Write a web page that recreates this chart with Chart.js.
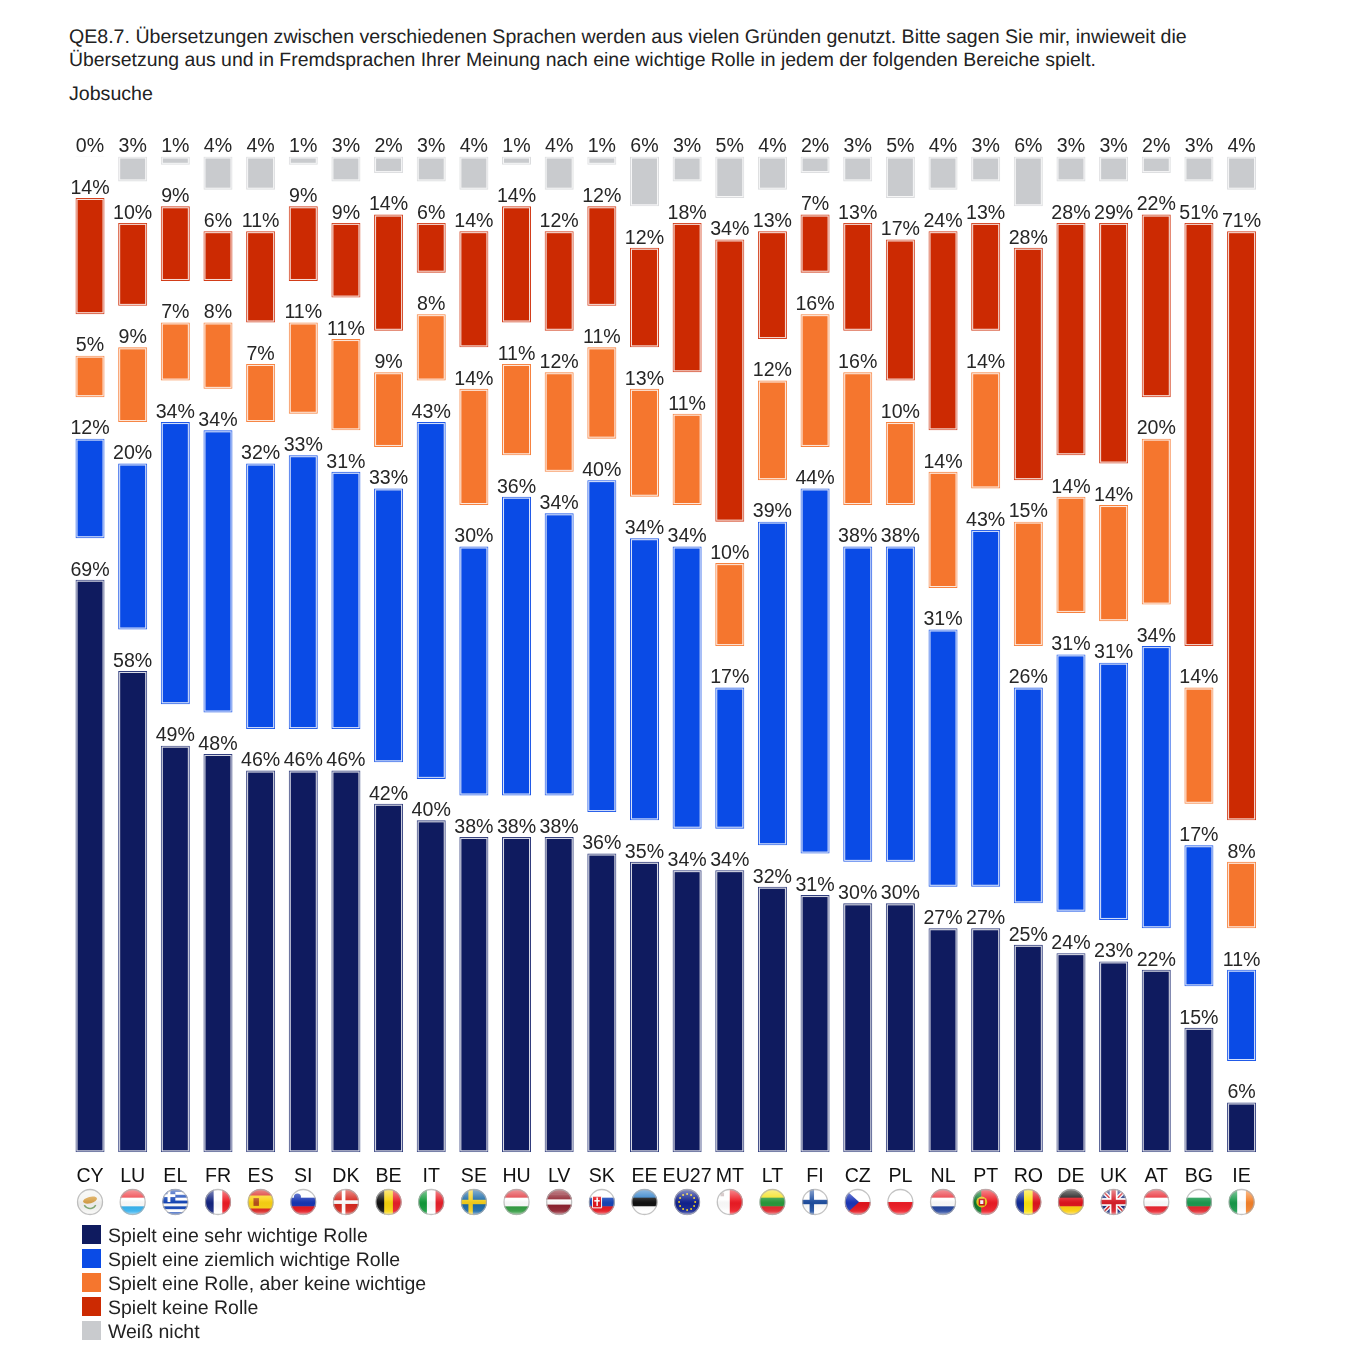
<!DOCTYPE html>
<html lang="de">
<head>
<meta charset="utf-8">
<title>QE8.7 Jobsuche</title>
<script src="https://cdn.jsdelivr.net/npm/chart.js@4"></script>
<style>
    html, body { margin: 0; padding: 0; background: #fff; }
    body { position: relative; width: 1346px; height: 1346px; overflow: hidden; font-family: "Liberation Sans", Arial, sans-serif; color: #222; text-rendering: geometricPrecision; }
    canvas { position: absolute; left: 0; top: 0; }
    #question { position: absolute; left: 69px; top: 26px; width: 1230px; font-size: 19.58px; line-height: 23px; white-space: nowrap; }
    #question span { font-size: 19.41px; }
    #topic { position: absolute; left: 69px; top: 83px; font-size: 19.6px; line-height: 23px; }
    #legend { position: absolute; left: 82px; top: 1222.5px; font-size: 19.48px; }
    .legend-row { display: flex; align-items: center; height: 24px; }
    .legend-box { width: 19px; height: 19px; margin-right: 7px; }
    .legend-text { position: relative; top: 1.5px; }
</style>
</head>
<body>
<div id="question">QE8.7. Übersetzungen zwischen verschiedenen Sprachen werden aus vielen Gründen genutzt. Bitte sagen Sie mir, inwieweit die<br><span>Übersetzung aus und in Fremdsprachen Ihrer Meinung nach eine wichtige Rolle in jedem der folgenden Bereiche spielt.</span></div>
<div id="topic">Jobsuche</div>
<canvas id="chart" width="1346" height="1346"></canvas>
<div id="legend"></div>

<script>
// =====================================================
// DATA
// =====================================================
const countries = ["CY","LU","EL","FR","ES","SI","DK","BE","IT","SE","HU","LV","SK","EE","EU27","MT","LT","FI","CZ","PL","NL","PT","RO","DE","UK","AT","BG","IE"];

const veryImportant   = [69,58,49,48,46,46,46,42,40,38,38,38,36,35,34,34,32,31,30,30,27,27,25,24,23,22,15,6];
const fairlyImportant = [12,20,34,34,32,33,31,33,43,30,36,34,40,34,34,17,39,44,38,38,31,43,26,31,31,34,17,11];
const notImportant    = [5,9,7,8,7,11,11,9,8,14,11,12,11,13,11,10,12,16,16,10,14,14,15,14,14,20,14,8];
const noRole          = [14,10,9,6,11,9,9,14,6,14,14,12,12,12,18,34,13,7,13,17,24,13,28,28,29,22,51,71];
const dontKnow        = [0,3,1,4,4,1,3,2,3,4,1,4,1,6,3,5,4,2,3,5,4,3,6,3,3,2,3,4];

const seriesNames  = ["Spielt eine sehr wichtige Rolle","Spielt eine ziemlich wichtige Rolle","Spielt eine Rolle, aber keine wichtige","Spielt keine Rolle","Weiß nicht"];
const seriesValues = [veryImportant, fairlyImportant, notImportant, noRole, dontKnow];
const seriesColors = ["#0F1B5F","#0A4BE6","#F5762E","#CC2A02","#C9CBCE"];
const seriesBorders = ["#2F3C7C","#1E58E8","#F6823F","#D23C18","#DCDDDF"];

const SEGMENT_GAP = 5; // empty room between two segments, in percentage points

// =====================================================
// FLAGS (plain stripes first, details drawn on top)
// =====================================================
const flagStripes = {
    CY: ["h", ["#f4f4f2"]],
    LU: ["h", ["#ee3b42","#ffffff","#35b1ee"]],
    EL: ["h", ["#1446b8","#ffffff","#1446b8","#ffffff","#1446b8","#ffffff","#1446b8","#ffffff","#1446b8"]],
    FR: ["v", ["#12237f","#ffffff","#ee1c25"]],
    ES: ["h", ["#d8201c","#fbd214","#fbd214","#d8201c"]],
    SI: ["h", ["#ffffff","#1836b4","#e3131b"]],
    DK: ["h", ["#d7281e"]],
    BE: ["v", ["#111111","#f7d40d","#e8202a"]],
    IT: ["v", ["#129a3a","#ffffff","#e8202a"]],
    SE: ["h", ["#1b6aa8"]],
    HU: ["h", ["#e0353c","#ffffff","#2f9a3e"]],
    LV: ["h", ["#8c1f2c","#8c1f2c","#ffffff","#8c1f2c","#8c1f2c"]],
    SK: ["h", ["#ffffff","#1746b8","#e4141c"]],
    EE: ["h", ["#2a7cc7","#111111","#ffffff"]],
    EU27: ["h", ["#12238f"]],
    MT: ["v", ["#ffffff","#ee1c25"]],
    LT: ["h", ["#f4e01a","#2a9a3c","#e0242a"]],
    FI: ["h", ["#ffffff"]],
    CZ: ["h", ["#ffffff","#e4141c"]],
    PL: ["h", ["#ffffff","#ee1c25"]],
    NL: ["h", ["#e8303a","#ffffff","#22439c"]],
    PT: ["v", ["#0f7a2c","#ee1c25","#ee1c25"]],
    RO: ["v", ["#0f2a96","#fbe20f","#e0141e"]],
    DE: ["h", ["#111111","#e0141e","#fbce0b"]],
    UK: ["h", ["#1a2f80"]],
    AT: ["h", ["#e8202a","#ffffff","#e8202a"]],
    BG: ["h", ["#ffffff","#1c9a50","#e0242a"]],
    IE: ["v", ["#179a4a","#ffffff","#f5822a"]]
};

const flagDetails = {
    CY(c, r) {
        c.fillStyle = "#d8a24a";
        c.beginPath(); c.ellipse(0, -r * 0.15, r * 0.55, r * 0.25, -0.25, 0, Math.PI * 2); c.fill();
        c.strokeStyle = "#7fa870"; c.lineWidth = 1.5;
        c.beginPath(); c.arc(0, 0, r * 0.5, 0.5, Math.PI - 0.5); c.stroke();
    },
    EL(c, r) {
        c.fillStyle = "#1446b8"; c.fillRect(-r, -r, r, r * 1.05);
        c.fillStyle = "#fff"; c.fillRect(-r, -r * 0.6, r, r * 0.22); c.fillRect(-r * 0.6, -r, r * 0.22, r);
    },
    ES(c, r) {
        c.fillStyle = "#b8501c"; c.fillRect(-r * 0.55, -r * 0.3, r * 0.42, r * 0.6);
    },
    SI(c, r) {
        c.fillStyle = "#1836b4";
        c.beginPath(); c.arc(-r * 0.45, -r * 0.38, r * 0.27, 0, Math.PI * 2); c.fill();
    },
    DK(c, r) {
        c.fillStyle = "#fff"; c.fillRect(-r, -r * 0.13, 2 * r, r * 0.28); c.fillRect(-r * 0.32, -r, r * 0.28, 2 * r);
    },
    SE(c, r) {
        c.fillStyle = "#f5cf1c"; c.fillRect(-r, -r * 0.17, 2 * r, r * 0.34); c.fillRect(-r * 0.42, -r, r * 0.34, 2 * r);
    },
    SK(c, r) {
        c.fillStyle = "#e4141c"; c.strokeStyle = "#fff"; c.lineWidth = 1;
        c.beginPath(); c.rect(-r * 0.72, -r * 0.45, r * 0.7, r * 0.9); c.fill(); c.stroke();
        c.fillStyle = "#fff"; c.fillRect(-r * 0.42, -r * 0.35, r * 0.12, r * 0.65); c.fillRect(-r * 0.58, -r * 0.15, r * 0.42, r * 0.12);
    },
    EU27(c, r) {
        c.fillStyle = "#f5d21c";
        for (let i = 0; i < 12; i++) {
            const a = i * Math.PI / 6;
            c.beginPath(); c.arc(Math.cos(a) * r * 0.62, Math.sin(a) * r * 0.62, 1, 0, Math.PI * 2); c.fill();
        }
    },
    FI(c, r) {
        c.fillStyle = "#1e4ea0"; c.fillRect(-r, -r * 0.17, 2 * r, r * 0.34); c.fillRect(-r * 0.42, -r, r * 0.34, 2 * r);
    },
    CZ(c, r) {
        c.fillStyle = "#1c36b8";
        c.beginPath(); c.moveTo(-r, -r); c.lineTo(r * 0.1, 0); c.lineTo(-r, r); c.closePath(); c.fill();
    },
    PT(c, r) {
        c.fillStyle = "#e8c81c"; c.beginPath(); c.arc(-r * 0.3, 0, r * 0.42, 0, Math.PI * 2); c.fill();
        c.fillStyle = "#fff"; c.strokeStyle = "#c8141c"; c.lineWidth = 1.5;
        c.beginPath(); c.rect(-r * 0.48, -r * 0.2, r * 0.36, r * 0.42); c.fill(); c.stroke();
    },
    MT(c, r) {
        c.fillStyle = "#c9b9b9"; c.fillRect(-r * 0.72, -r * 0.72, r * 0.28, r * 0.28);
    },
    UK(c, r) {
        c.strokeStyle = "#fff"; c.lineWidth = 4;
        c.beginPath(); c.moveTo(-r, -r); c.lineTo(r, r); c.moveTo(r, -r); c.lineTo(-r, r); c.stroke();
        c.strokeStyle = "#d8202a"; c.lineWidth = 1.6; c.stroke();
        c.fillStyle = "#fff"; c.fillRect(-r, -r * 0.3, 2 * r, r * 0.6); c.fillRect(-r * 0.3, -r, r * 0.6, 2 * r);
        c.fillStyle = "#d8202a"; c.fillRect(-r, -r * 0.17, 2 * r, r * 0.34); c.fillRect(-r * 0.17, -r, r * 0.34, 2 * r);
    }
};

function drawFlag(c, code, x, y, r) {
    const [dir, colors] = flagStripes[code];
    c.save();
    c.translate(x, y);
    c.beginPath();
    c.arc(0, 0, r, 0, Math.PI * 2);
    c.clip();
    const band = 2 * r / colors.length;
    colors.forEach((col, i) => {
        c.fillStyle = col;
        if (dir === "h") c.fillRect(-r, -r + i * band, 2 * r, band + 0.5);
        else c.fillRect(-r + i * band, -r, band + 0.5, 2 * r);
    });
    if (flagDetails[code]) flagDetails[code](c, r);

    // glossy ball look
    const gloss = c.createLinearGradient(0, -r, 0, r);
    gloss.addColorStop(0, "rgba(255,255,255,0.5)");
    gloss.addColorStop(0.42, "rgba(255,255,255,0.08)");
    gloss.addColorStop(0.55, "rgba(0,0,0,0.04)");
    gloss.addColorStop(0.85, "rgba(255,255,255,0.08)");
    gloss.addColorStop(1, "rgba(255,255,255,0.6)");
    c.fillStyle = gloss;
    c.fillRect(-r, -r, 2 * r, 2 * r);
    c.restore();

    c.beginPath();
    c.arc(x, y, r - 0.5, 0, Math.PI * 2);
    c.strokeStyle = "rgba(175,175,175,0.75)";
    c.lineWidth = 1.3;
    c.stroke();
}

// =====================================================
// PLUGINS
// =====================================================
// light line just inside each bar's border
const innerLine = {
    id: "innerLine",
    afterDatasetDraw(chart, args) {
        const c = chart.ctx;
        c.save();
        c.strokeStyle = "rgba(255,255,255,0.85)";
        c.lineWidth = 1;
        args.meta.data.forEach(bar => {
            const h = Math.abs(bar.base - bar.y);
            if (h < 4) return;
            const w = bar.width;
            c.strokeRect(bar.x - w / 2 + 1.5, Math.min(bar.y, bar.base) + 1.5, w - 3, h - 3);
        });
        c.restore();
    }
};

// percentage above each bar
const barLabels = {
    id: "barLabels",
    afterDatasetsDraw(chart) {
        const c = chart.ctx;
        c.save();
        c.font = '19.6px "Liberation Sans", Arial, sans-serif';
        c.fillStyle = "#262626";
        c.textAlign = "center";
        c.textBaseline = "alphabetic";
        seriesValues.forEach((values, s) => {
            chart.getDatasetMeta(s).data.forEach((bar, i) => {
                c.fillText(values[i] + "%", bar.x, Math.min(bar.y, bar.base) - (values[i] === 0 ? 3 : 4.2));
            });
        });
        c.restore();
    }
};

const flagRow = {
    id: "flagRow",
    afterDraw(chart) {
        const xScale = chart.scales.x;
        countries.forEach((code, i) => {
            drawFlag(chart.ctx, code, xScale.getPixelForTick(i), 1202, 13);
        });
    }
};

// =====================================================
// CHART
// =====================================================
// each segment floats above the ones below it, with a fixed gap between
function floatingBars(s) {
    return countries.map((_, i) => {
        let start = s * SEGMENT_GAP;
        for (let k = 0; k < s; k++) start += seriesValues[k][i];
        return [start, start + seriesValues[s][i]];
    });
}

new Chart(document.getElementById("chart"), {
    type: "bar",
    data: {
        labels: countries,
        datasets: seriesNames.map((name, s) => ({
            label: name,
            data: floatingBars(s),
            backgroundColor: seriesColors[s],
            borderColor: seriesBorders[s],
            borderWidth: 1,
            borderSkipped: false,
            grouped: false,
            barPercentage: 0.68,
            categoryPercentage: 1,
            minBarLength: s === 4 ? 2 : 0
        }))
    },
    options: {
        responsive: false,
        animation: false,
        layout: { padding: { left: 68.7, right: 83.1, top: 156.5, bottom: 153.7 } },
        scales: {
            y: { display: false, min: 0, max: 120 },
            x: {
                grid: { display: false },
                border: { display: false },
                afterFit(scale) { scale.height = 40; },
                ticks: {
                    autoSkip: false,
                    maxRotation: 0,
                    padding: 5,
                    color: "#111",
                    font: { family: '"Liberation Sans", Arial, sans-serif', size: 19.6 }
                }
            }
        },
        plugins: {
            legend: { display: false },
            tooltip: { enabled: false }
        }
    },
    plugins: [innerLine, barLabels, flagRow]
});

// =====================================================
// LEGEND
// =====================================================
const legendBox = document.getElementById("legend");
seriesNames.forEach((name, s) => {
    const row = document.createElement("div");
    row.className = "legend-row";
    const box = document.createElement("span");
    box.className = "legend-box";
    box.style.background = seriesColors[s];
    const text = document.createElement("span");
    text.className = "legend-text";
    text.textContent = name;
    row.appendChild(box);
    row.appendChild(text);
    legendBox.appendChild(row);
});
</script>
</body>
</html>
